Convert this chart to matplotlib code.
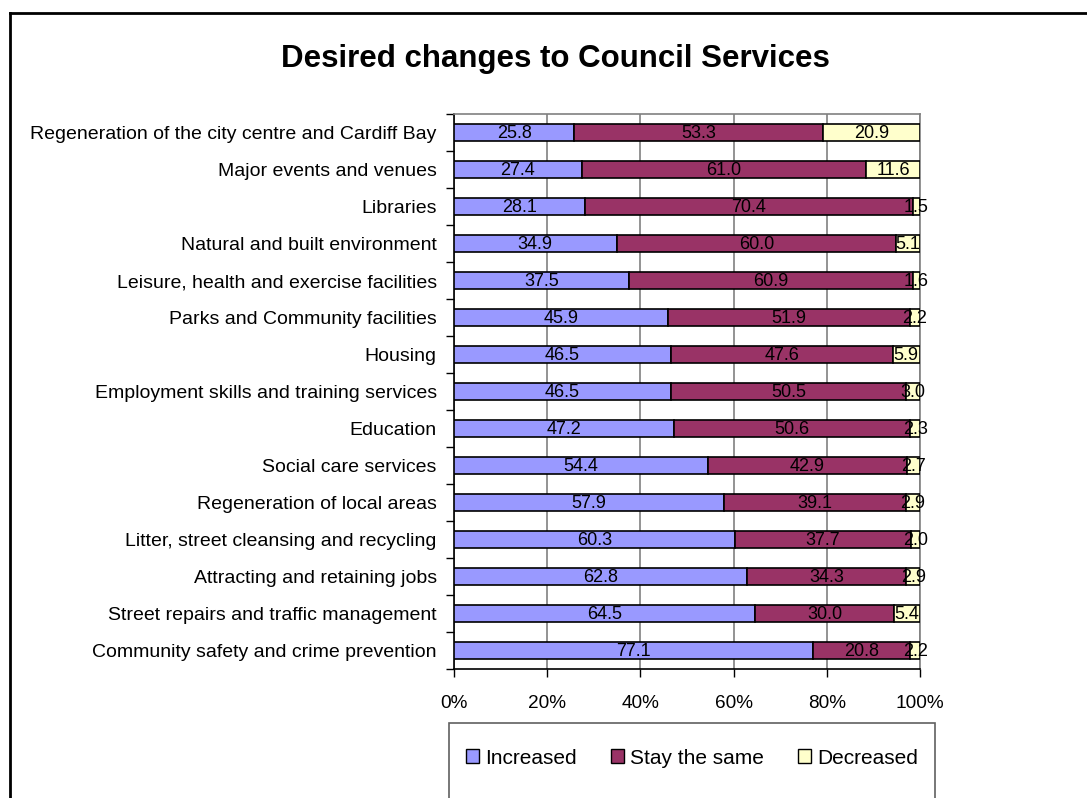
import numpy as np
import matplotlib
matplotlib.use("Agg")
import matplotlib.pyplot as plt
from matplotlib.patches import Rectangle, Patch
from matplotlib.lines import Line2D

plt.rcParams['font.family'] = ['Liberation Sans', 'DejaVu Sans']

services = [
    "Regeneration of the city centre and Cardiff Bay",
    "Major events and venues",
    "Libraries",
    "Natural and built environment",
    "Leisure, health and exercise facilities",
    "Parks and Community facilities",
    "Housing",
    "Employment skills and training services",
    "Education",
    "Social care services",
    "Regeneration of local areas",
    "Litter, street cleansing and recycling",
    "Attracting and retaining jobs",
    "Street repairs and traffic management",
    "Community safety and crime prevention",
]
increased = [25.8, 27.4, 28.1, 34.9, 37.5, 45.9, 46.5, 46.5, 47.2, 54.4, 57.9, 60.3, 62.8, 64.5, 77.1]
same = [53.3, 61.0, 70.4, 60.0, 60.9, 51.9, 47.6, 50.5, 50.6, 42.9, 39.1, 37.7, 34.3, 30.0, 20.8]
decreased = [20.9, 11.6, 1.5, 5.1, 1.6, 2.2, 5.9, 3.0, 2.3, 2.7, 2.9, 2.0, 2.9, 5.4, 2.2]

series = [("Increased", increased, "#9999FF"),
          ("Stay the same", same, "#993366"),
          ("Decreased", decreased, "#FFFFCC")]

W, H = 1087, 798
fig = plt.figure(figsize=(W / 100, H / 100), dpi=100)
ax = fig.add_axes([454 / W, 1 - 669 / H, (920 - 454) / W, (669 - 114) / H])

n = len(services)
y = np.arange(n)[::-1]  # first category at top
left = np.zeros(n)
for name, vals, col in series:
    vals = np.array(vals)
    ax.barh(y, vals, left=left, height=0.47, color=col, edgecolor="black",
            linewidth=1.2, label=name, zorder=3)
    for yi, l, v in zip(y, left, vals):
        ax.text(l + v / 2, yi - 0.02, f"{v:.1f}", ha="center", va="center",
                fontsize=13, color="black", zorder=4)
    left = left + vals

ax.set_xlim(0, 100)
ax.set_ylim(-0.5, n - 0.5)
ax.set_xticks(np.arange(0, 101, 20))
ax.set_xticklabels([f"{v}%" for v in range(0, 101, 20)], fontsize=13.7)
ax.tick_params(axis="x", direction="out", length=6, width=1, pad=13)
ax.xaxis.grid(True, color="#808080", linewidth=1.2, zorder=0)

ax.set_yticks(np.arange(-0.5, n, 1.0))
ax.set_yticklabels([])
ax.set_yticks(y, minor=True)
ax.set_yticklabels(services, minor=True, fontsize=14)
ax.tick_params(axis="y", which="major", direction="out", length=6, width=1)
ax.tick_params(axis="y", which="minor", length=0, pad=12.5)

ax.spines["left"].set_color("black")
ax.spines["bottom"].set_color("black")
ax.spines["left"].set_linewidth(1.2)
ax.spines["bottom"].set_linewidth(1.2)
ax.spines["top"].set_color("#808080")
ax.spines["right"].set_color("#808080")
ax.spines["top"].set_linewidth(1.2)
ax.spines["right"].set_linewidth(1.2)

fig.text(555 / W, 1 - 59 / H, "Desired changes to Council Services",
         ha="center", va="center", fontsize=22.5, fontweight="bold")

# outer chart frame (top and left edges)
fig.add_artist(Line2D([10 / W, 1], [1 - 13 / H, 1 - 13 / H], color="black", lw=2))
fig.add_artist(Line2D([10 / W, 10 / W], [0, 1 - 13 / H], color="black", lw=2))

# legend box
fig.add_artist(Rectangle((449 / W, -0.01), (935 - 449) / W, 0.01 + (798 - 723) / H,
                         transform=fig.transFigure, facecolor="white",
                         edgecolor="#606060", lw=1.2))
handles = [Patch(facecolor=c, edgecolor="black", label=nm) for nm, _, c in series]
fig.legend(handles=handles, loc="center", bbox_to_anchor=(692 / W, 1 - 758 / H),
           ncol=3, frameon=False, fontsize=15, handlelength=0.65, handleheight=0.65,
           handletextpad=0.3, columnspacing=1.6)

fig.savefig("out.png", dpi=100)
